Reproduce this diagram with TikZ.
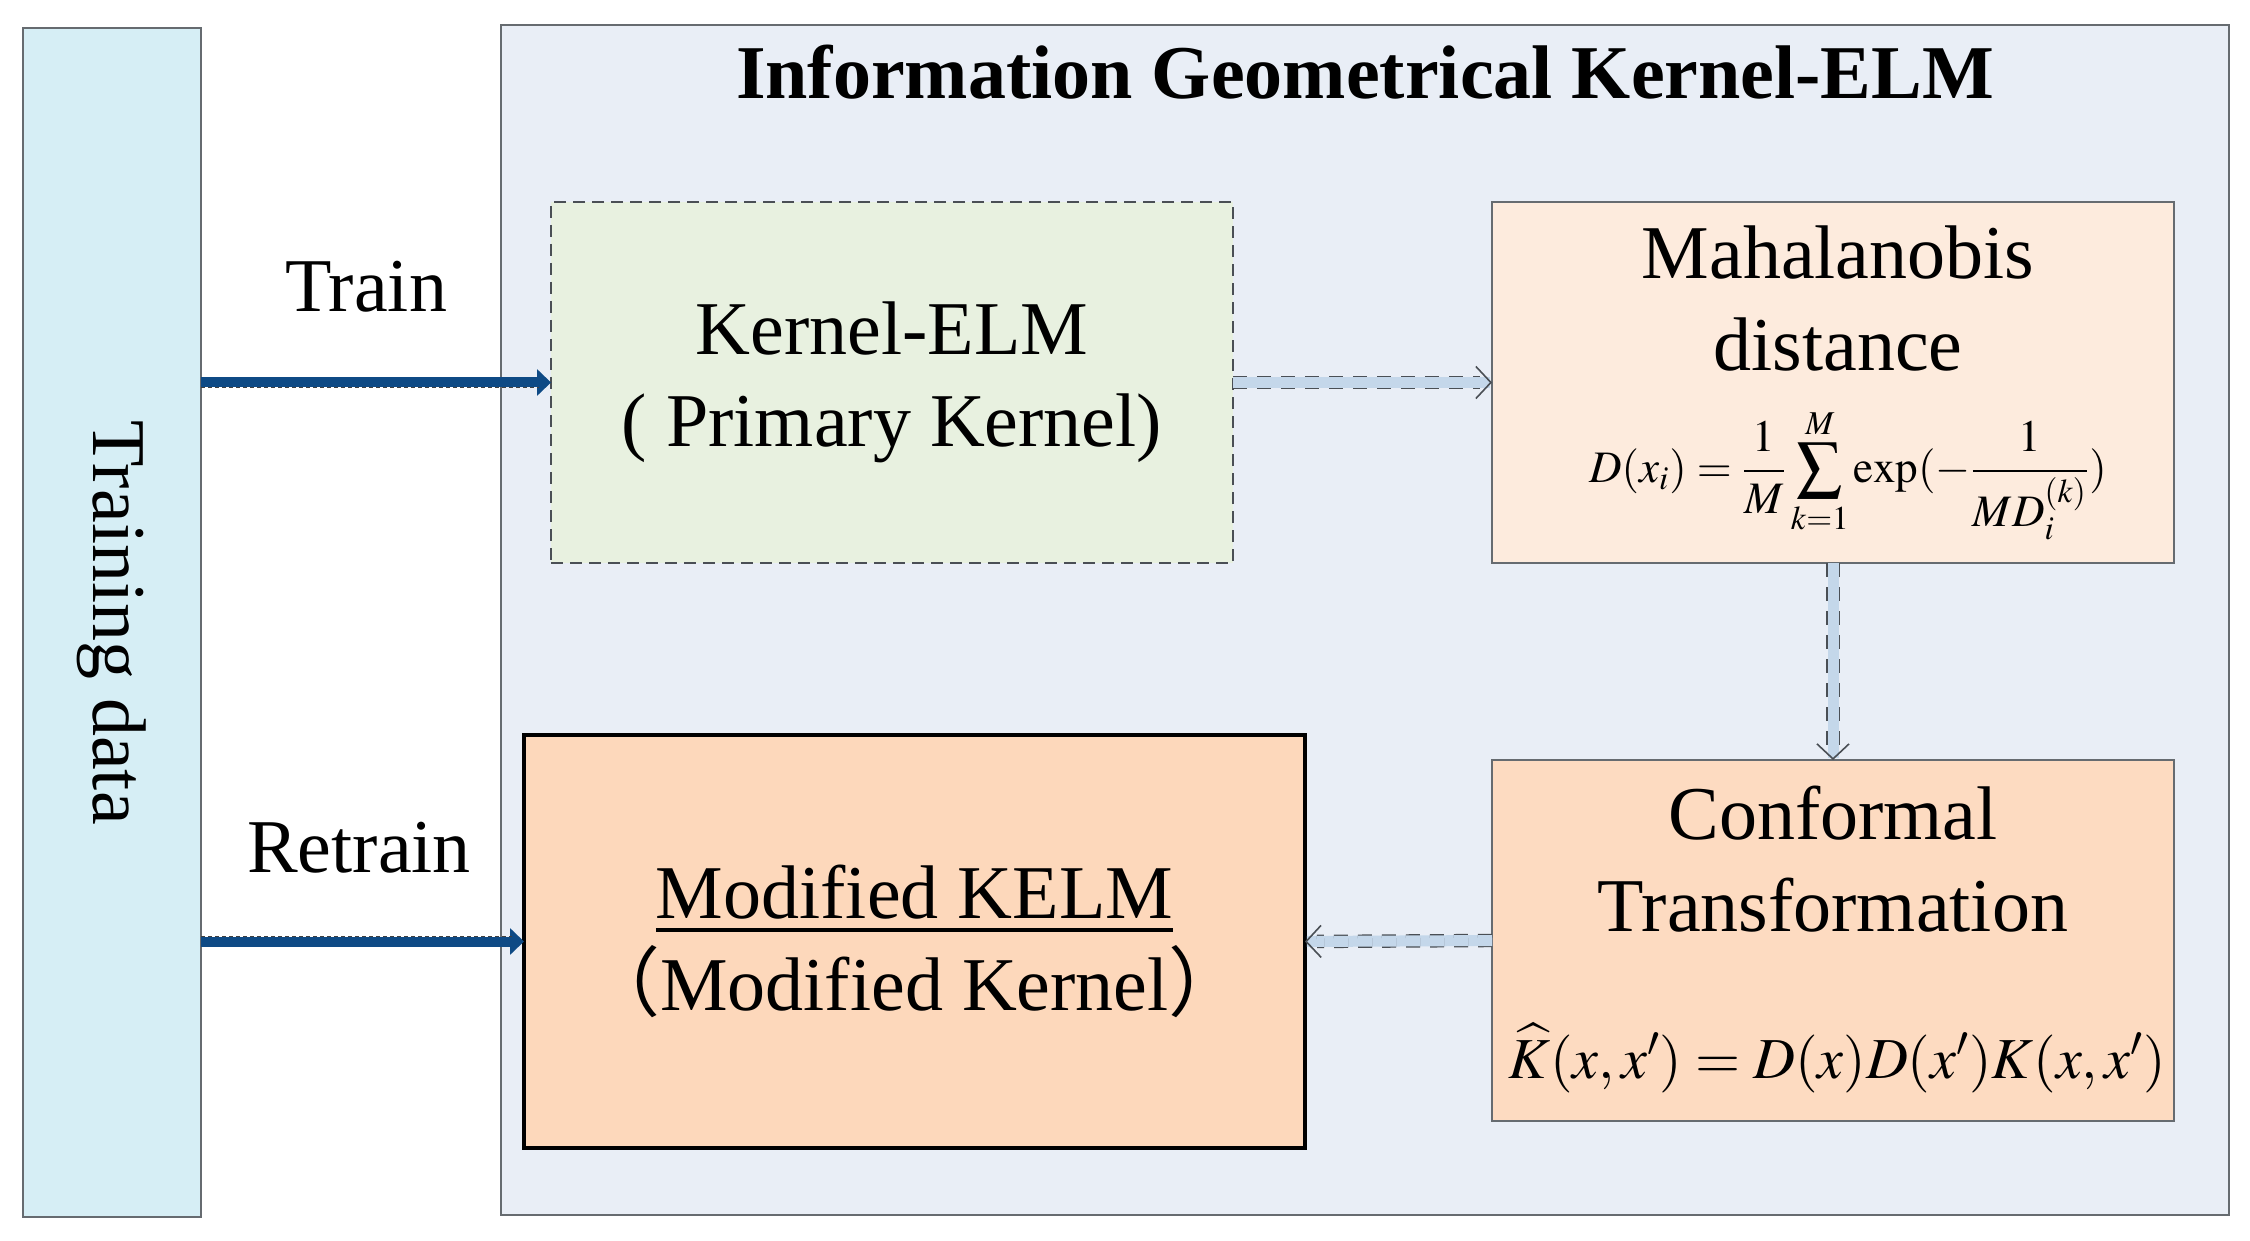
\documentclass[tikz,border=0pt]{standalone}
\usepackage{mathptmx}
\usepackage[no-math]{fontspec}
\setmainfont{Liberation Serif}
\newfontfamily\cjk{Noto Sans CJK SC}
\usepackage{tikz}
\usetikzlibrary{arrows.meta, positioning}

\definecolor{traincyan}{HTML}{D6EEF5}
\definecolor{panelblue}{HTML}{E9EEF6}
\definecolor{kelmgreen}{HTML}{E8F1E0}
\definecolor{mahapeach}{HTML}{FDEBDD}
\definecolor{confpeach}{HTML}{FDDBC1}
\definecolor{modpeach}{HTML}{FDD8BB}
\definecolor{arrowblue}{HTML}{0E4A85}
\definecolor{flowfill}{HTML}{C4D7EA}
\definecolor{dashgray}{HTML}{4A4F55}
\definecolor{boxgray}{HTML}{666B70}

\newcommand{\BigFont}{\fontsize{38}{46}\selectfont}
\newcommand{\EqFont}{\fontsize{22.5}{27}\selectfont}
\newcommand{\KEqFont}{\fontsize{29}{34}\selectfont}

\tikzset{
    box/.style={rectangle, draw=boxgray, line width=0.7pt, outer sep=0pt,
        inner sep=0pt, align=center, font=\BigFont},
    trainarrow/.style={draw=arrowblue, line width=5pt,
        -{Triangle[length=7pt, width=13pt]},
        postaction={draw=black!75, line width=0.4pt, double=arrowblue,
            double distance=5pt, dash pattern=on 2pt off 1.5pt, -, shorten >=6pt}},
    flowarrow/.style={draw=flowfill, line width=5.5pt,
        -{Straight Barb[color=dashgray, length=7.5pt, width=16pt, line width=0.8pt]},
        postaction={draw=dashgray, line width=0.6pt, double=flowfill,
            double distance=5.5pt, dash pattern=on 7pt off 5pt, -, shorten >=6pt}}
}

\begin{document}
\begin{tikzpicture}[x=0.5pt, y=-0.5pt]
        \useasboundingbox (0,0) rectangle (2250,1241);
        % training data column
        \node[box, fill=traincyan, minimum width=89pt, minimum height=594.5pt] (train) at (112,622.5) {};
        \node[font=\BigFont, rotate=-90] (traintext) at (train.center) {Training data};
        % big panel
        \node[box, fill=panelblue, minimum width=864pt, minimum height=595pt] (panel) at (1365,620) {};
        \node[font=\bfseries\fontsize{38}{45}\selectfont] (title) at (1365,72) {Information Geometrical Kernel-ELM};
        % the four blocks
        \node[box, fill=kelmgreen, draw=dashgray, line width=0.6pt, dash pattern=on 6pt off 3.5pt,
            minimum width=341pt, minimum height=180.5pt] (kelm) at (892,382.5)
            {Kernel-ELM\\( Primary Kernel)};
        \node[box, fill=mahapeach, minimum width=341pt, minimum height=180.5pt] (maha) at (1833,382.5) {};
        \node[box, fill=confpeach, minimum width=341pt, minimum height=180.5pt] (conf) at (1833,940.5) {};
        \node[box, fill=modpeach, draw=black, line width=1.7pt,
            minimum width=390.5pt, minimum height=206.5pt] (modkelm) at (914.5,941.5)
            {\underline{Modified KELM}\\{\cjk （}Modified Kernel{\cjk ）}};
        % texts in the right blocks
        \node[font=\BigFont, align=center] (mahatext) at (1838,299) {Mahalanobis\\distance};
        \node[font=\EqFont] (mahaeq) at (1848,474)
            {$\displaystyle D(x_i)=\frac{1}{M}\sum_{k=1}^{M}\exp(-\frac{1}{MD_i^{(k)}})$};
        \node[font=\BigFont, align=center] (conftext) at (1833,859) {Conformal\\Transformation};
        \node[font=\KEqFont] (confeq) at (1837,1058)
            {$\widehat{K}(x,x')=D(x)D(x')K(x,x')$};
        % train and retrain labels
        \node[font=\BigFont] (trainlabel) at (366,287) {Train};
        \node[font=\BigFont] (retrainlabel) at (359,848) {Retrain};
        % arrows
        \draw[trainarrow] (kelm.west -| train.east) -- (kelm.west);
        \draw[trainarrow] (modkelm.west -| train.east) -- (modkelm.west);
        \draw[flowarrow] (kelm.east) -- (maha.west);
        \draw[flowarrow] (maha.south) -- (conf.north);
        \draw[flowarrow] (conf.west) -- (modkelm.east);
\end{tikzpicture}
\end{document}
